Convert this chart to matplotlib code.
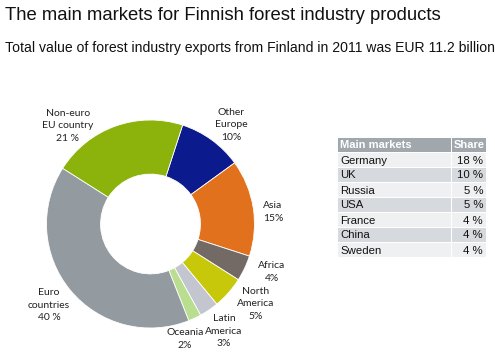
import matplotlib
matplotlib.use("Agg")
import matplotlib.pyplot as plt
from matplotlib.patches import Rectangle

W, H = 495, 353

# Data
regions = ["Other\nEurope", "Asia", "Africa", "North\nAmerica", "Latin\nAmerica",
           "Oceania", "Euro\ncountries", "Non-euro\nEU country"]
shares = [10, 15, 4, 5, 3, 2, 40, 21]
share_labels = ["10%", "15%", "4%", "5%", "3%", "2%", "40 %", "21 %"]
colors = ["#0b1a8c", "#e2711d", "#736a65", "#c8c80a", "#c3c6cf",
          "#b9de8f", "#939aa0", "#8bb30b"]

markets = ["Germany", "UK", "Russia", "USA", "France", "China", "Sweden"]
market_shares = ["18 %", "10 %", "5 %", "5 %", "4 %", "4 %", "4 %"]

fig = plt.figure(figsize=(W / 100, H / 100), dpi=100)
fig.patch.set_facecolor("white")

def fx(x):
    return x / W

def fy(y):
    return 1 - y / H

fig.text(fx(5), fy(16), "The main markets for Finnish forest industry products",
         fontsize=13.3, family="Liberation Sans", va="center", ha="left", color="#111111")
fig.text(fx(5), fy(48), "Total value of forest industry exports from Finland in 2011 was EUR 11.2 billion",
         fontsize=10.1, family="Liberation Sans", va="center", ha="left", color="#111111")

# Donut
cx, cy, r = 150.5, 224, 104
ax = fig.add_axes([fx(cx - r), fy(cy + r), 2 * r / W, 2 * r / H])
ax.pie(shares, colors=colors, startangle=72, counterclock=False, radius=1,
       wedgeprops=dict(width=0.52, edgecolor="white", linewidth=0.6))
ax.set_xlim(-1, 1)
ax.set_ylim(-1, 1)
ax.set_aspect("equal")
ax.axis("off")

# Labels (pixel positions of text centers)
label_pos = [(231, 125), (273, 212), (272, 272), (256, 304), (224, 331),
             (185, 339), (49, 305), (68, 126)]
for name, pct, (x, y) in zip(regions, share_labels, label_pos):
    fig.text(fx(x), fy(y), name + "\n" + pct, ha="center", va="center",
             fontsize=7.5, family="Lato", color="#222222", linespacing=1.55)

# Table
tx0, tx1, tsplit = 338, 486, 451
row_h = 15
top = 138
tax = fig.add_axes([0, 0, 1, 1], facecolor="none")
tax.set_xlim(0, W)
tax.set_ylim(H, 0)
tax.axis("off")

tax.add_patch(Rectangle((tx0, top), tsplit - tx0, row_h - 1, facecolor="#a0a7ad", edgecolor="none"))
tax.add_patch(Rectangle((tsplit + 1, top), tx1 - tsplit - 1, row_h - 1, facecolor="#a0a7ad", edgecolor="none"))
tax.text(tx0 + 2, top + row_h / 2, "Main markets", color="white", fontweight="bold",
         fontsize=8.0, family="Liberation Sans", va="center", ha="left")
tax.text(tx1 - 1, top + row_h / 2, "Share", color="white", fontweight="bold",
         fontsize=8.0, family="Liberation Sans", va="center", ha="right")

for i, (m, s) in enumerate(zip(markets, market_shares)):
    y0 = top + row_h * (i + 1)
    fc = "#eef0f2" if i % 2 == 0 else "#d6dade"
    tax.add_patch(Rectangle((tx0, y0), tsplit - tx0, row_h - 1, facecolor=fc, edgecolor="none"))
    tax.add_patch(Rectangle((tsplit + 1, y0), tx1 - tsplit - 1, row_h - 1, facecolor=fc, edgecolor="none"))
    tax.text(tx0 + 2, y0 + row_h / 2, m, color="#111111", fontsize=8.2,
             family="Liberation Sans", va="center", ha="left")
    tax.text(tx1 - 3, y0 + row_h / 2, s, color="#111111", fontsize=8.2,
             family="Liberation Sans", va="center", ha="right")

fig.savefig("out.png", dpi=100)
